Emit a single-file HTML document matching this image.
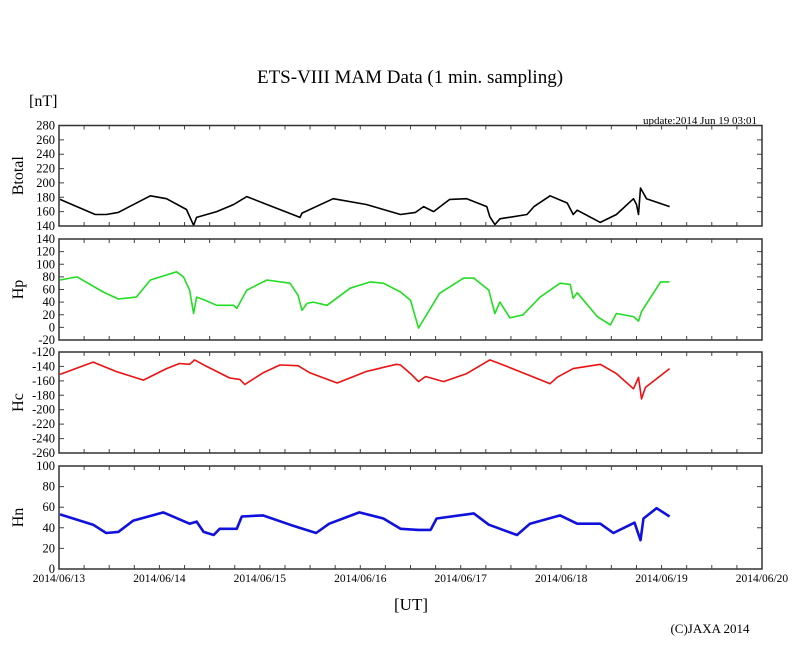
<!DOCTYPE html>
<html><head><meta charset="utf-8"><style>
body{margin:0;background:#fff;}
svg{display:block;font-family:"Liberation Serif",serif;}
</style></head><body>
<svg id="chart" width="810" height="655" viewBox="0 0 810 655" xmlns="http://www.w3.org/2000/svg">
<text x="410" y="83" font-size="19" text-anchor="middle">ETS-VIII MAM Data (1 min. sampling)</text>
<text x="29" y="106" font-size="16">[nT]</text>
<text x="757" y="124" font-size="11" text-anchor="end">update:2014 Jun 19 03:01</text>
<text x="411" y="610" font-size="17" text-anchor="middle">[UT]</text>
<text x="710" y="633" font-size="13" text-anchor="middle">(C)JAXA 2014</text>
<g id="plots"></g>
</svg>
<script>
const xTickLabels = ["2014/06/13","2014/06/14","2014/06/15","2014/06/16","2014/06/17","2014/06/18","2014/06/19","2014/06/20"];
const btotalTicks = [140,160,180,200,220,240,260,280];
const hpTicks = [-20,0,20,40,60,80,100,120,140];
const hcTicks = [-260,-240,-220,-200,-180,-160,-140,-120];
const hnTicks = [0,20,40,60,80,100];
const btotalSeries = [[0.01,177],[0.36,156],[0.47,156],[0.59,159],[0.91,182],[1.07,178],[1.27,163],[1.34,141],[1.37,152],[1.57,160],[1.74,170],[1.87,181],[2.07,170],[2.40,152],[2.42,158],[2.73,178],[3.06,170],[3.40,156],[3.55,159],[3.63,167],[3.73,160],[3.89,177],[4.06,178],[4.26,167],[4.29,153],[4.34,142],[4.39,150],[4.66,156],[4.73,167],[4.89,182],[5.06,172],[5.12,156],[5.16,162],[5.39,145],[5.55,156],[5.72,178],[5.75,170],[5.77,156],[5.79,193],[5.85,178],[6.08,167]];
const hpSeries = [[0.01,75],[0.18,80],[0.44,56],[0.59,45],[0.77,48],[0.91,75],[1.01,80],[1.17,88],[1.24,80],[1.30,59],[1.34,22],[1.37,48],[1.44,44],[1.57,35],[1.74,35],[1.77,30],[1.87,59],[2.07,75],[2.30,70],[2.38,51],[2.42,27],[2.47,38],[2.53,40],[2.67,35],[2.90,62],[3.10,72],[3.23,70],[3.40,56],[3.50,43],[3.58,-1],[3.79,54],[4.03,78],[4.13,78],[4.28,59],[4.31,40],[4.34,22],[4.39,40],[4.49,15],[4.62,20],[4.79,48],[4.99,70],[5.09,68],[5.12,46],[5.16,55],[5.36,17],[5.49,4],[5.55,22],[5.72,17],[5.77,10],[5.80,25],[5.99,72],[6.08,72]];
const hcSeries = [[0.01,-151],[0.34,-134],[0.57,-147],[0.84,-159],[1.07,-143],[1.20,-136],[1.30,-137],[1.35,-131],[1.47,-140],[1.70,-156],[1.80,-158],[1.85,-165],[2.03,-149],[2.20,-138],[2.38,-139],[2.50,-149],[2.77,-163],[3.06,-147],[3.36,-137],[3.40,-138],[3.50,-150],[3.58,-161],[3.65,-154],[3.83,-161],[4.06,-150],[4.29,-131],[4.46,-140],[4.89,-164],[4.96,-155],[5.12,-143],[5.39,-137],[5.55,-150],[5.72,-171],[5.77,-155],[5.80,-185],[5.84,-169],[6.08,-143]];
const hnSeries = [[0.01,53],[0.34,43],[0.47,35],[0.59,36],[0.74,47],[1.04,55],[1.30,44],[1.37,46],[1.44,36],[1.54,33],[1.60,39],[1.77,39],[1.82,51],[2.03,52],[2.30,43],[2.56,35],[2.69,44],[2.99,55],[3.23,49],[3.40,39],[3.58,38],[3.70,38],[3.76,49],[4.13,54],[4.28,43],[4.56,33],[4.69,44],[4.99,52],[5.16,44],[5.39,44],[5.52,35],[5.69,43],[5.73,45],[5.79,28],[5.82,49],[5.95,59],[6.08,51]];

const X0=59, X1=762, DAYS=7;
const xs = d => X0 + (X1-X0)*d/DAYS;
const NS="http://www.w3.org/2000/svg";
const g=document.getElementById('plots');
function mk(tag, attrs){const e=document.createElementNS(NS,tag);for(const k in attrs)e.setAttribute(k,attrs[k]);g.appendChild(e);return e;}
function panel(name,label,top,bot,ticks,series,color,sw,showX){
  const lo=ticks[0],hi=ticks[ticks.length-1];
  const ys=v=>bot-(v-lo)*(bot-top)/(hi-lo);
  ticks.forEach(t=>{
    const y=ys(t);
    const tl=mk('text',{x:55,y:y+4,'font-size':12.5,'text-anchor':'end'});tl.textContent=t;
    
    
    const a=mk('path',{d:`M${X0} ${y}h5M${X1} ${y}h-5`,stroke:'#444','stroke-width':1});
    
    
  });
  for(let i=1;i<DAYS*4;i++){
    const x=xs(i/4);
    const t=mk('path',{d:`M${x} ${top}v4M${x} ${bot}v-4`,stroke:'#444','stroke-width':1});
    
    
  }
  const pts=series.map(p=>xs(p[0]).toFixed(1)+','+ys(p[1]).toFixed(1)).join(' ');
  const l=mk('polyline',{points:pts,fill:'none',stroke:color,'stroke-width':sw,'stroke-linejoin':'round'});
  
  
  const f=mk('rect',{x:X0,y:top,width:X1-X0,height:bot-top,fill:'none',stroke:'#333','stroke-width':1.5});
  
  
  const yt=mk('text',{x:0,y:0,'font-size':16,'text-anchor':'middle',transform:`translate(23 ${(top+bot)/2}) rotate(-90)`});
  yt.textContent=label;
  
  
  if(showX){
    xTickLabels.forEach((s,i)=>{
      const t=mk('text',{x:xs(i),y:bot+13,'font-size':11.5,'text-anchor':'middle'});t.textContent=s;
      
      
    });
  }
}
panel('btotal','Btotal',125.5,226,btotalTicks,btotalSeries,'#000',1.6,false);
panel('hp','Hp',239,340,hpTicks,hpSeries,'#22dd22',1.6,false);
panel('hc','Hc',352,453,hcTicks,hcSeries,'#ee1111',1.6,false);
panel('hn','Hn',466,569,hnTicks,hnSeries,'#1111dd',2.6,true);
</script>
</body></html>
